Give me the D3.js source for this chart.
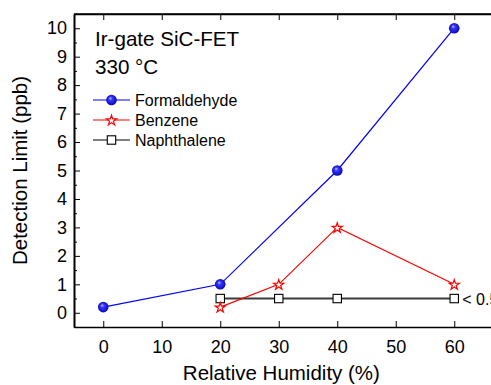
<!DOCTYPE html>
<html>
<head>
<meta charset="utf-8">
<script src="https://cdn.jsdelivr.net/npm/d3@7"></script>
<style>
  html, body { margin: 0; padding: 0; background: #fff; }
  svg { display: block; font-family: "Liberation Sans", Arial, sans-serif; }
</style>
</head>
<body>
<svg id="chart" width="491" height="385"></svg>
<script>
// Relative humidity (%) and detection limits (ppb)
const formaldehydeRH = [0, 20, 40, 60];
const formaldehydeDL = [0.2, 1, 5, 10];
const benzeneRH = [20, 30, 40, 60];
const benzeneDL = [0.2, 1, 3, 1];
const naphthaleneRH = [20, 30, 40, 60];
const naphthaleneDL = [0.5, 0.5, 0.5, 0.5];
const xTicks = [0, 10, 20, 30, 40, 50, 60];
const yTicks = [0, 1, 2, 3, 4, 5, 6, 7, 8, 9, 10];
const yMinorTicks = d3.range(-0.5, 10.51, 0.5).filter(v => !Number.isInteger(v));

const svg = d3.select("#chart");
const plotLeft = 74, plotTop = 14, plotBottom = 327;
const x = d3.scaleLinear().domain([-5, 70]).range([plotLeft, plotLeft + 75 * 5.85]);
const y = d3.scaleLinear().domain([-0.5, 10.5]).range([plotBottom, plotTop]);

// Sphere shading for the formaldehyde markers
const defs = svg.append("defs");
const grad = defs.append("radialGradient").attr("id", "ball")
  .attr("cx", "0.5").attr("cy", "0.5").attr("r", "0.55")
  .attr("fx", "0.38").attr("fy", "0.32");
grad.append("stop").attr("offset", "0").attr("stop-color", "#c8c8ff");
grad.append("stop").attr("offset", "0.3").attr("stop-color", "#3a3aff");
grad.append("stop").attr("offset", "1").attr("stop-color", "#0000b0");

// Axes with inward ticks
const xAxis = svg.append("g").attr("transform", `translate(0,${plotBottom})`)
  .call(d3.axisBottom(x).tickValues(xTicks).tickSizeInner(-6).tickSizeOuter(0).tickPadding(13));
const xTop = svg.append("g").attr("transform", `translate(0,${plotTop})`)
  .call(d3.axisTop(x).tickValues(xTicks).tickSizeInner(-6).tickSizeOuter(0).tickFormat(""));
const yAxis = svg.append("g").attr("transform", `translate(${plotLeft},0)`)
  .call(d3.axisLeft(y).tickValues(yTicks).tickSizeInner(-6).tickSizeOuter(0).tickPadding(7));
const yMinor = svg.append("g").attr("transform", `translate(${plotLeft},0)`)
  .call(d3.axisLeft(y).tickValues(yMinorTicks).tickSizeInner(-3).tickSizeOuter(0).tickFormat(""));

[xAxis, xTop, yAxis, yMinor].forEach(g => {
  g.select(".domain").attr("stroke", "#000").attr("stroke-width", 1.6);
  g.selectAll(".tick line").attr("stroke", "#000").attr("stroke-width", 1);
  g.selectAll(".tick text").attr("fill", "#000").attr("font-size", 18)
    .attr("font-family", "Liberation Sans, Arial, sans-serif");
});

// Axis titles
svg.append("text").attr("x", (x(-5) + x(70)) / 2 - 12).attr("y", 380)
  .attr("text-anchor", "middle").attr("font-size", 20.5).text("Relative Humidity (%)");
svg.append("text").attr("transform", `translate(27,${(plotTop + plotBottom) / 2}) rotate(-90)`)
  .attr("text-anchor", "middle").attr("font-size", 20.5).text("Detection Limit (ppb)");

const line = d3.line();
function pts(xs, ys) { return xs.map((v, i) => [x(v), y(ys[i])]); }

// Naphthalene
svg.append("path").attr("d", line(pts(naphthaleneRH, naphthaleneDL)))
  .attr("fill", "none").attr("stroke", "#3a3a3a").attr("stroke-width", 2);
// Benzene
svg.append("path").attr("d", line(pts(benzeneRH, benzeneDL)))
  .attr("fill", "none").attr("stroke", "#ff0000").attr("stroke-width", 1.2);
// Formaldehyde
svg.append("path").attr("d", line(pts(formaldehydeRH, formaldehydeDL)))
  .attr("fill", "none").attr("stroke", "#0000ff").attr("stroke-width", 1.2);

const star = d3.symbol().type(d3.symbolStar).size(32);
function drawSquare(g, cx, cy) {
  g.append("rect").attr("x", cx - 4.2).attr("y", cy - 4.2).attr("width", 8.4).attr("height", 8.4)
    .attr("fill", "#fff").attr("stroke", "#000").attr("stroke-width", 1.1);
}
function drawStar(g, cx, cy) {
  g.append("path").attr("d", star()).attr("transform", `translate(${cx},${cy + 0.6})`)
    .attr("fill", "#fff").attr("stroke", "#ff0000").attr("stroke-width", 1.2);
}
function drawBall(g, cx, cy) {
  g.append("circle").attr("cx", cx).attr("cy", cy).attr("r", 5.3).attr("fill", "url(#ball)");
}

const marks = svg.append("g");
pts(naphthaleneRH, naphthaleneDL).forEach(p => drawSquare(marks, p[0], p[1]));
pts(benzeneRH, benzeneDL).forEach(p => drawStar(marks, p[0], p[1]));
pts(formaldehydeRH, formaldehydeDL).forEach(p => drawBall(marks, p[0], p[1]));

// Value note beside the last naphthalene point
svg.append("text").attr("x", x(60) + 8).attr("y", y(0.5) + 6)
  .attr("font-size", 16).text("< 0.5");

// Plot frame (right edge runs past the page)
svg.append("line").attr("x1", plotLeft).attr("x2", x(70)).attr("y1", plotTop).attr("y2", plotTop)
  .attr("stroke", "#000").attr("stroke-width", 1.6);

// Title block
svg.append("text").attr("x", 95).attr("y", 46).attr("font-size", 20.6).text("Ir-gate SiC-FET");
svg.append("text").attr("x", 95).attr("y", 74).attr("font-size", 20.6).text("330 °C");

// Legend
const legend = [
  { name: "Formaldehyde", color: "#0000ff", draw: drawBall, w: 1.2 },
  { name: "Benzene", color: "#ff0000", draw: drawStar, w: 1.2 },
  { name: "Naphthalene", color: "#000", draw: drawSquare, w: 1.2 }
];
legend.forEach((d, i) => {
  const ly = 100 + i * 20;
  svg.append("line").attr("x1", 93).attr("x2", 130).attr("y1", ly).attr("y2", ly)
    .attr("stroke", d.color).attr("stroke-width", d.w);
  d.draw(svg, 111.5, ly);
  svg.append("text").attr("x", 135).attr("y", ly + 6).attr("font-size", 16).text(d.name);
});
</script>
</body>
</html>
